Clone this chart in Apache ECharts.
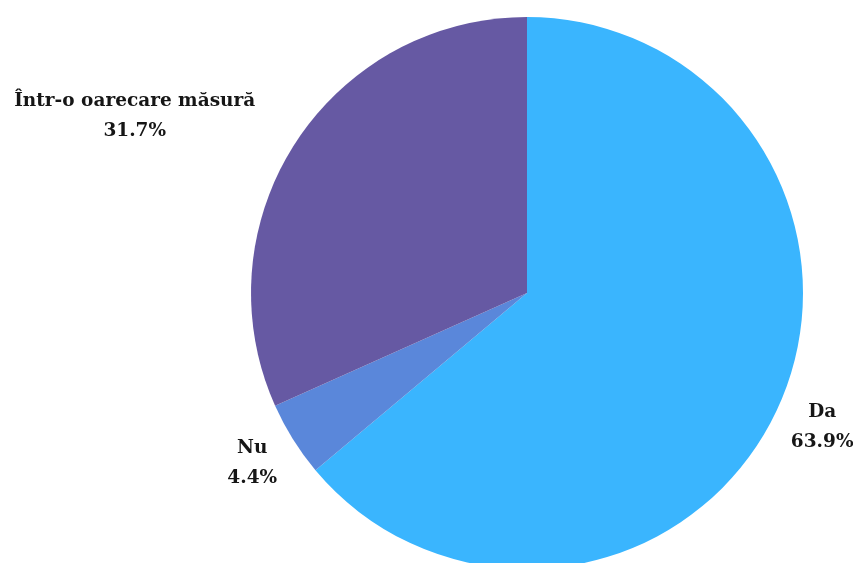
<!DOCTYPE html>
<html>
<head>
<meta charset="utf-8">
<script src="https://cdn.jsdelivr.net/npm/echarts@6/dist/echarts.min.js"></script>
<style>
html,body{margin:0;padding:0;background:#fff;}
#c{width:853px;height:563px;}
</style>
</head>
<body>
<div id="c"></div>
<script>
const categories = ['Da', 'Nu', 'Într-o oarecare măsură'];
const values = [63.9, 4.4, 31.7];
const colors = ['#3ab5fe', '#5a87da', '#6659a3'];
// label placement tweaks (label line length / distance), per slice
const lineLengths = [42, 44, 49];
const labelDistances = [-25, -22, -2];

const FS = 18.5;
const FONT = 'bold ' + FS + 'px "DejaVu Serif"';
const cv = document.createElement('canvas').getContext('2d');
cv.font = FONT;
function w(t){ return Math.ceil(cv.measureText(t).width) + 1; }

const data = categories.map((name, i) => {
  const pct = values[i].toFixed(1) + '%';
  const W = Math.max(w(name), w(pct));
  const st = { width: W, align: 'center', fontFamily: 'DejaVu Serif', fontWeight: 'bold', fontSize: FS, color: '#161616', lineHeight: 30 };
  return {
    name: name,
    value: values[i],
    itemStyle: { color: colors[i] },
    labelLine: { show: false, length: lineLengths[i], length2: 0 },
    label: {
      distanceToLabelLine: labelDistances[i],
      formatter: '{n|' + name + '}\n{v|' + pct + '}',
      rich: { n: st, v: st }
    }
  };
});

const chart = echarts.init(document.getElementById('c'), null, { renderer: 'canvas' });
chart.setOption({
  animation: false,
  backgroundColor: '#ffffff',
  series: [{
    type: 'pie',
    center: [527, 293],
    radius: 276,
    startAngle: 90,
    clockwise: true,
    avoidLabelOverlap: false,
    itemStyle: { borderWidth: 0 },
    label: { show: true, position: 'outside', alignTo: 'none', bleedMargin: 0 },
    labelLine: { show: false },
    emphasis: { disabled: true },
    data: data
  }]
});
</script>
</body>
</html>
